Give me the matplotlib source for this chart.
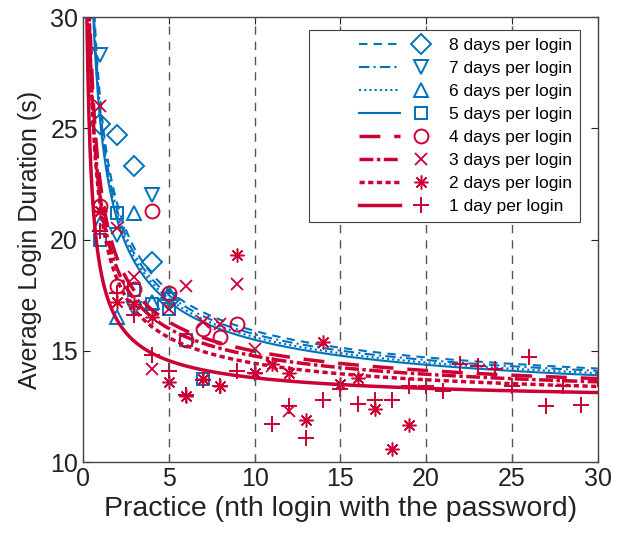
import numpy as np
import matplotlib
matplotlib.use('Agg')
import matplotlib.pyplot as plt
from matplotlib.lines import Line2D
from matplotlib.legend_handler import HandlerTuple

plt.rcParams['font.family'] = ['Liberation Sans', 'DejaVu Sans']

blue = '#0072BD'
red = '#CC0033'

labels = ['8 days per login', '7 days per login', '6 days per login', '5 days per login',
          '4 days per login', '3 days per login', '2 days per login', '1 day per login']

# observed average login durations (s) for nth login
y8 = [25.2, 24.7, 23.3, 19.0, 17.3]
y7 = [28.3, 20.2, 16.9, 22.0, 17.3]
y6 = [20.7, 16.5, 21.2, 17.2, 17.6]
y5 = [20.0, 21.2, 17.75, 17.1, 16.9, 15.5, 13.75]
y4 = [21.5, 17.9, 17.8, 21.3, 17.6, 15.5, 16.0, 15.6, 16.2]
y3 = [26.0, 20.5, 18.3, 14.2, 16.9, 17.9, 16.3, 16.2, 18.0, 15.1, 14.3, 12.3]
y2 = [21.3, 17.2, 17.1, 16.5, 13.6, 12.95, 13.75, 13.4, 19.3, 14.0, 14.4, 14.0,
      11.9, 15.4, 13.5, 13.8, 12.4, 10.6, 11.65]
y1 = [20.4, 17.6, 16.6, 14.8, 14.1, 13.0, 13.7, 13.4, 14.1, 14.0, 11.7, 12.5, 11.06,
      12.8, 13.3, 12.6, 12.8, 12.8, 13.4, 13.4, 13.2, 14.4, 14.3, 14.2, 13.4, 14.7,
      12.5, 13.4, 12.55, 13.75]

# power-law fit y = c + a * x^b for each interval
fit_c = [12.39, 12.34, 12.26, 12.19, 12.43, 12.36, 12.40, 12.55]
fit_a = [13.96, 13.56, 13.36, 13.16, 10.17, 9.57, 9.10, 6.2]
fit_b = [-0.6, -0.6, -0.6, -0.6, -0.6, -0.6, -0.65, -0.7]

series = [y8, y7, y6, y5, y4, y3, y2, y1]
colors = [blue] * 4 + [red] * 4
markers = ['D', 'v', '^', 's', 'o', 'x', (8, 2, 0), '+']
msizes = [10, 10, 10, 8, 10, 9, 10, 12]
mwidths = [1.4, 1.4, 1.4, 1.4, 1.4, 1.3, 1.1, 1.4]
styles = [(0, (4, 3)), (0, (5, 2, 1, 2)), (0, (1, 1.5)), '-',
          (0, (6, 4)), (0, (4, 1, 1, 1)), (0, (1.5, 1)), '-']
lwidths = [1.5, 1.5, 1.5, 1.5, 2.5, 2.5, 2.5, 2.5]

fig = plt.figure(figsize=(6.22, 5.36), dpi=100)
ax = fig.add_axes([0.1334, 0.138, 0.8276, 0.830])

xf = np.linspace(0.05, 30, 3000)
handles = []
for ys, c, a, b, col, m, ms, mw, ls, lw in zip(series, fit_c, fit_a, fit_b, colors,
                                              markers, msizes, mwidths, styles, lwidths):
    xs = np.arange(1, len(ys) + 1)
    ax.plot(xf, c + a * xf ** b, color=col, linestyle=ls, linewidth=lw)
    ax.plot(xs, ys, linestyle='none', marker=m, markersize=ms, markerfacecolor='none',
            markeredgecolor=col, markeredgewidth=mw)
    h_blank = Line2D([], [], color='none')
    h_line = Line2D([], [], color=col, linestyle=ls, linewidth=lw)
    h_mark = Line2D([], [], linestyle='none', marker=m, markersize=ms,
                    markerfacecolor='none', markeredgecolor=col, markeredgewidth=mw)
    handles.append((h_blank, h_line, h_mark))

for xv in [5, 10, 15, 20, 25]:
    ax.axvline(xv, color='#555555', linestyle=(0, (6, 5)), linewidth=1.0)

ax.set_xlim(0, 30)
ax.set_ylim(10, 30)
ax.set_xticks([0, 5, 10, 15, 20, 25, 30])
ax.set_yticks([10, 15, 20, 25, 30])
ax.tick_params(direction='in', labelsize=18, top=True, right=True, length=5,
               colors='#222222')
for s in ax.spines.values():
    s.set_color('#444444')
    s.set_linewidth(1.0)
ax.set_xlabel('Practice (nth login with the password)', fontsize=20.5, color='#222222',
              labelpad=4)
ax.set_ylabel('Average Login Duration (s)', fontsize=18, color='#222222', labelpad=6)

leg = ax.legend(handles, labels, loc='upper right', fontsize=12.5,
                handler_map={tuple: HandlerTuple(ndivide=3, pad=0)},
                handlelength=7.2, handletextpad=0.4, labelspacing=0.45, borderpad=0.45,
                borderaxespad=0, fancybox=False, edgecolor='#444444', framealpha=1,
                bbox_to_anchor=(0.965, 0.971))
leg.get_frame().set_linewidth(0.8)

fig.savefig('out.png', dpi=100)
